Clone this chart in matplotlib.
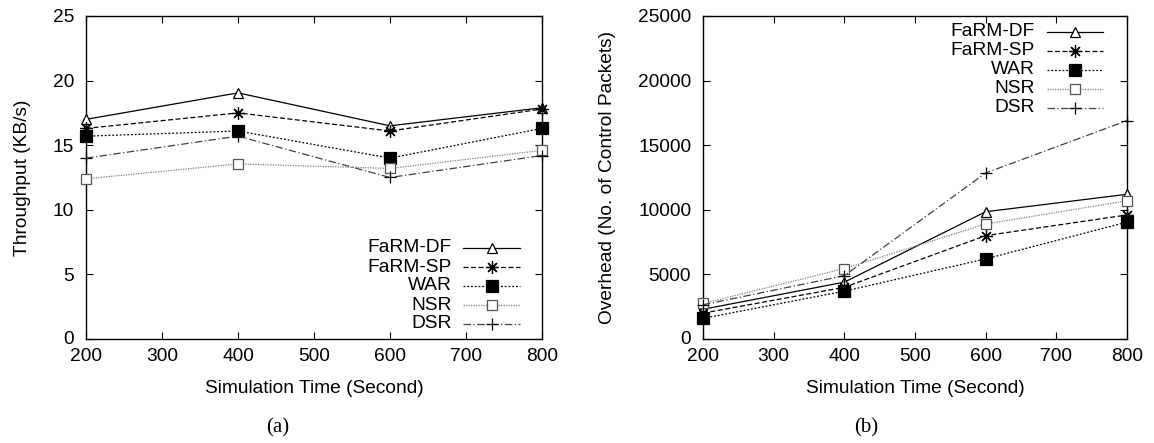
import matplotlib
matplotlib.use("Agg")
import matplotlib.pyplot as plt
from matplotlib.lines import Line2D

plt.rcParams['font.family'] = ['Liberation Sans', 'DejaVu Sans']

sim_time = [200, 400, 600, 800]
x_ticks = [200, 300, 400, 500, 600, 700, 800]
series_names = ["FaRM-DF", "FaRM-SP", "WAR", "NSR", "DSR"]

throughput = {
    "FaRM-DF": [17.0, 19.05, 16.5, 17.9],
    "FaRM-SP": [16.3, 17.5, 16.1, 17.8],
    "WAR":     [15.7, 16.1, 14.0, 16.3],
    "NSR":     [12.4, 13.55, 13.2, 14.6],
    "DSR":     [14.0, 15.7, 12.5, 14.2],
}
overhead = {
    "FaRM-DF": [2300, 4400, 9850, 11200],
    "FaRM-SP": [2000, 4000, 8000, 9600],
    "WAR":     [1600, 3700, 6200, 9050],
    "NSR":     [2750, 5450, 8900, 10700],
    "DSR":     [2650, 4900, 12850, 16900],
}

styles = {
    "FaRM-DF": dict(color="black", linestyle="-", marker="^", mfc="white", mec="black", ms=7.5),
    "FaRM-SP": dict(color="black", linestyle=(0, (4, 2)), marker=(8, 2, 0), mfc="black", mec="black", ms=9),
    "WAR":     dict(color="black", linestyle=(0, (1.5, 1.5)), marker="s", mfc="black", mec="black", ms=9),
    "NSR":     dict(color="#808080", linestyle=(0, (1, 1)), marker="s", mfc="white", mec="#555555", ms=7.5),
    "DSR":     dict(color="#404040", linestyle=(0, (6, 2, 1, 2)), marker="+", mfc="black", mec="black", ms=9),
}

W, H = 1154, 443
fig = plt.figure(figsize=(W / 100, H / 100), dpi=100)

def ax_rect(x0, x1, ytop, ybot):
    return [x0 / W, (H - ybot) / H, (x1 - x0) / W, (ybot - ytop) / H]

ax1 = fig.add_axes(ax_rect(86, 542, 16, 339))
ax2 = fig.add_axes(ax_rect(703, 1127, 16, 339))

fs = 13.8

def draw(ax, data, ylim, yticks, ylabel, legend_text_x, legend_line_x, legend_ys):
    for name in series_names:
        st = styles[name]
        ax.plot(sim_time, data[name], color=st["color"], linestyle=st["linestyle"], lw=0.9,
                marker=st["marker"], markerfacecolor=st["mfc"], markeredgecolor=st["mec"],
                markersize=st["ms"], markeredgewidth=0.9, clip_on=False, zorder=3)
    ax.set_xlim(200, 800)
    ax.set_ylim(*ylim)
    ax.set_xticks(x_ticks)
    ax.set_yticks(yticks)
    ax.tick_params(direction="in", top=True, right=True, length=5, width=0.8, labelsize=fs)
    ax.tick_params(axis="x", pad=6.5)
    ax.tick_params(axis="y", pad=8.5)
    # lift the "0" label a little so it does not collide with the first x label
    ax.yaxis.get_major_ticks()[0].label1.set_verticalalignment("center")
    for sp in ax.spines.values():
        sp.set_linewidth(1.0)
    ax.set_xlabel("Simulation Time (Second)", fontsize=fs, labelpad=11)
    ax.set_ylabel(ylabel, fontsize=fs, labelpad=16)
    # manual gnuplot-style legend (pixel coords converted to axes coords)
    bbox = ax.get_position()
    def to_ax(px, py):
        return ((px / W - bbox.x0) / bbox.width, ((H - py) / H - bbox.y0) / bbox.height)
    for name, py in zip(series_names, legend_ys):
        tx, ty = to_ax(legend_text_x, py)
        ax.text(tx, ty, name, transform=ax.transAxes, ha="right", va="center", fontsize=fs)
        lx0, _ = to_ax(legend_line_x[0], py)
        lx1, _ = to_ax(legend_line_x[1], py)
        st = styles[name]
        ax.add_line(Line2D([lx0, lx1], [ty, ty], transform=ax.transAxes, color=st["color"],
                           linestyle=st["linestyle"], lw=0.9))
        ax.add_line(Line2D([(lx0 + lx1) / 2], [ty], transform=ax.transAxes, marker=st["marker"],
                           markerfacecolor=st["mfc"], markeredgecolor=st["mec"],
                           markersize=st["ms"], markeredgewidth=0.9, linestyle="none"))

draw(ax1, throughput, (0, 25), [0, 5, 10, 15, 20, 25], "Throughput (KB/s)",
     452, (463, 520), [248, 267, 286, 305, 324])
draw(ax2, overhead, (0, 25000), [0, 5000, 10000, 15000, 20000, 25000],
     "Overhead (No. of Control Packets)",
     1035, (1047, 1103), [32, 51, 70, 89, 108])

fig.text(278 / W, 1 - 428 / H, "(a)", ha="center", va="center", fontsize=15,
         family=["Liberation Serif", "DejaVu Serif"])
fig.text(866 / W, 1 - 428 / H, "(b)", ha="center", va="center", fontsize=15,
         family=["Liberation Serif", "DejaVu Serif"])

fig.savefig("out.png", dpi=100)
